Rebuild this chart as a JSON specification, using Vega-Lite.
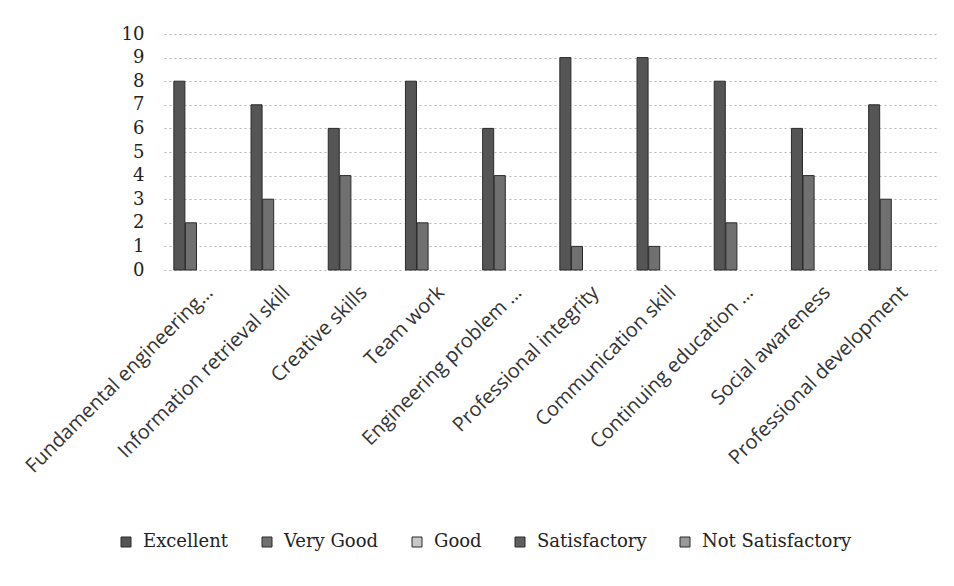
{
  "$schema": "https://vega.github.io/schema/vega-lite/v6.json",
  "width": 772,
  "height": 236,
  "autosize": {"type": "none"},
  "padding": {"left": 164, "top": 34, "right": 18, "bottom": 316},
  "background": "white",
  "config": {"view": {"stroke": null}},
  "data": {"values": [
    {"skill": "Fundamental engineering…", "rating": "Excellent", "count": 8},
    {"skill": "Fundamental engineering…", "rating": "Very Good", "count": 2},
    {"skill": "Fundamental engineering…", "rating": "Good", "count": 0},
    {"skill": "Fundamental engineering…", "rating": "Satisfactory", "count": 0},
    {"skill": "Fundamental engineering…", "rating": "Not Satisfactory", "count": 0},
    {"skill": "Information retrieval skill", "rating": "Excellent", "count": 7},
    {"skill": "Information retrieval skill", "rating": "Very Good", "count": 3},
    {"skill": "Information retrieval skill", "rating": "Good", "count": 0},
    {"skill": "Information retrieval skill", "rating": "Satisfactory", "count": 0},
    {"skill": "Information retrieval skill", "rating": "Not Satisfactory", "count": 0},
    {"skill": "Creative skills", "rating": "Excellent", "count": 6},
    {"skill": "Creative skills", "rating": "Very Good", "count": 4},
    {"skill": "Creative skills", "rating": "Good", "count": 0},
    {"skill": "Creative skills", "rating": "Satisfactory", "count": 0},
    {"skill": "Creative skills", "rating": "Not Satisfactory", "count": 0},
    {"skill": "Team work", "rating": "Excellent", "count": 8},
    {"skill": "Team work", "rating": "Very Good", "count": 2},
    {"skill": "Team work", "rating": "Good", "count": 0},
    {"skill": "Team work", "rating": "Satisfactory", "count": 0},
    {"skill": "Team work", "rating": "Not Satisfactory", "count": 0},
    {"skill": "Engineering problem …", "rating": "Excellent", "count": 6},
    {"skill": "Engineering problem …", "rating": "Very Good", "count": 4},
    {"skill": "Engineering problem …", "rating": "Good", "count": 0},
    {"skill": "Engineering problem …", "rating": "Satisfactory", "count": 0},
    {"skill": "Engineering problem …", "rating": "Not Satisfactory", "count": 0},
    {"skill": "Professional integrity", "rating": "Excellent", "count": 9},
    {"skill": "Professional integrity", "rating": "Very Good", "count": 1},
    {"skill": "Professional integrity", "rating": "Good", "count": 0},
    {"skill": "Professional integrity", "rating": "Satisfactory", "count": 0},
    {"skill": "Professional integrity", "rating": "Not Satisfactory", "count": 0},
    {"skill": "Communication skill", "rating": "Excellent", "count": 9},
    {"skill": "Communication skill", "rating": "Very Good", "count": 1},
    {"skill": "Communication skill", "rating": "Good", "count": 0},
    {"skill": "Communication skill", "rating": "Satisfactory", "count": 0},
    {"skill": "Communication skill", "rating": "Not Satisfactory", "count": 0},
    {"skill": "Continuing education …", "rating": "Excellent", "count": 8},
    {"skill": "Continuing education …", "rating": "Very Good", "count": 2},
    {"skill": "Continuing education …", "rating": "Good", "count": 0},
    {"skill": "Continuing education …", "rating": "Satisfactory", "count": 0},
    {"skill": "Continuing education …", "rating": "Not Satisfactory", "count": 0},
    {"skill": "Social awareness", "rating": "Excellent", "count": 6},
    {"skill": "Social awareness", "rating": "Very Good", "count": 4},
    {"skill": "Social awareness", "rating": "Good", "count": 0},
    {"skill": "Social awareness", "rating": "Satisfactory", "count": 0},
    {"skill": "Social awareness", "rating": "Not Satisfactory", "count": 0},
    {"skill": "Professional development", "rating": "Excellent", "count": 7},
    {"skill": "Professional development", "rating": "Very Good", "count": 3},
    {"skill": "Professional development", "rating": "Good", "count": 0},
    {"skill": "Professional development", "rating": "Satisfactory", "count": 0},
    {"skill": "Professional development", "rating": "Not Satisfactory", "count": 0}
  ]},
  "mark": {"type": "bar", "strokeWidth": 1},
  "encoding": {
    "x": {
      "field": "skill", "type": "nominal", "sort": null,
      "scale": {"paddingInner": 0.255, "paddingOuter": 0.1275},
      "axis": {
        "title": null, "ticks": false, "domain": false,
        "labelAngle": -45, "labelAlign": "right", "labelBaseline": "top",
        "labelFont": "Open Sans", "labelFontSize": 20, "labelColor": "#333",
        "labelPadding": 12, "labelLimit": 0
      }
    },
    "xOffset": {
      "field": "rating", "type": "nominal",
      "scale": {"domain": ["Excellent", "Very Good", "Good", "Satisfactory", "Not Satisfactory"], "paddingInner": 0.05}
    },
    "y": {
      "field": "count", "type": "quantitative",
      "scale": {"domain": [0, 10]},
      "axis": {
        "title": null, "ticks": false, "domain": false,
        "values": [0, 1, 2, 3, 4, 5, 6, 7, 8, 9, 10],
        "labelFont": "DejaVu Serif", "labelFontSize": 18, "labelColor": "#222",
        "labelPadding": 20,
        "grid": true, "gridColor": "#b5b5b5", "gridDash": [2, 3], "gridWidth": 1
      }
    },
    "stroke": {
      "condition": {"test": "datum.count > 0", "value": "#2a2a2a"},
      "value": null
    },
    "color": {
      "field": "rating", "type": "nominal",
      "scale": {
        "domain": ["Excellent", "Very Good", "Good", "Satisfactory", "Not Satisfactory"],
        "range": ["#555555", "#707070", "#c8c8c8", "#5e5e5e", "#9a9a9a"]
      },
      "legend": {
        "title": null, "orient": "none", "legendX": -47, "legendY": 499,
        "direction": "horizontal", "symbolType": "square", "symbolSize": 100,
        "symbolStrokeColor": "#2a2a2a", "symbolStrokeWidth": 1,
        "labelFont": "DejaVu Serif", "labelFontSize": 18, "labelColor": "#222",
        "columnPadding": 29, "labelOffset": 8, "labelLimit": 0
      }
    }
  }
}
